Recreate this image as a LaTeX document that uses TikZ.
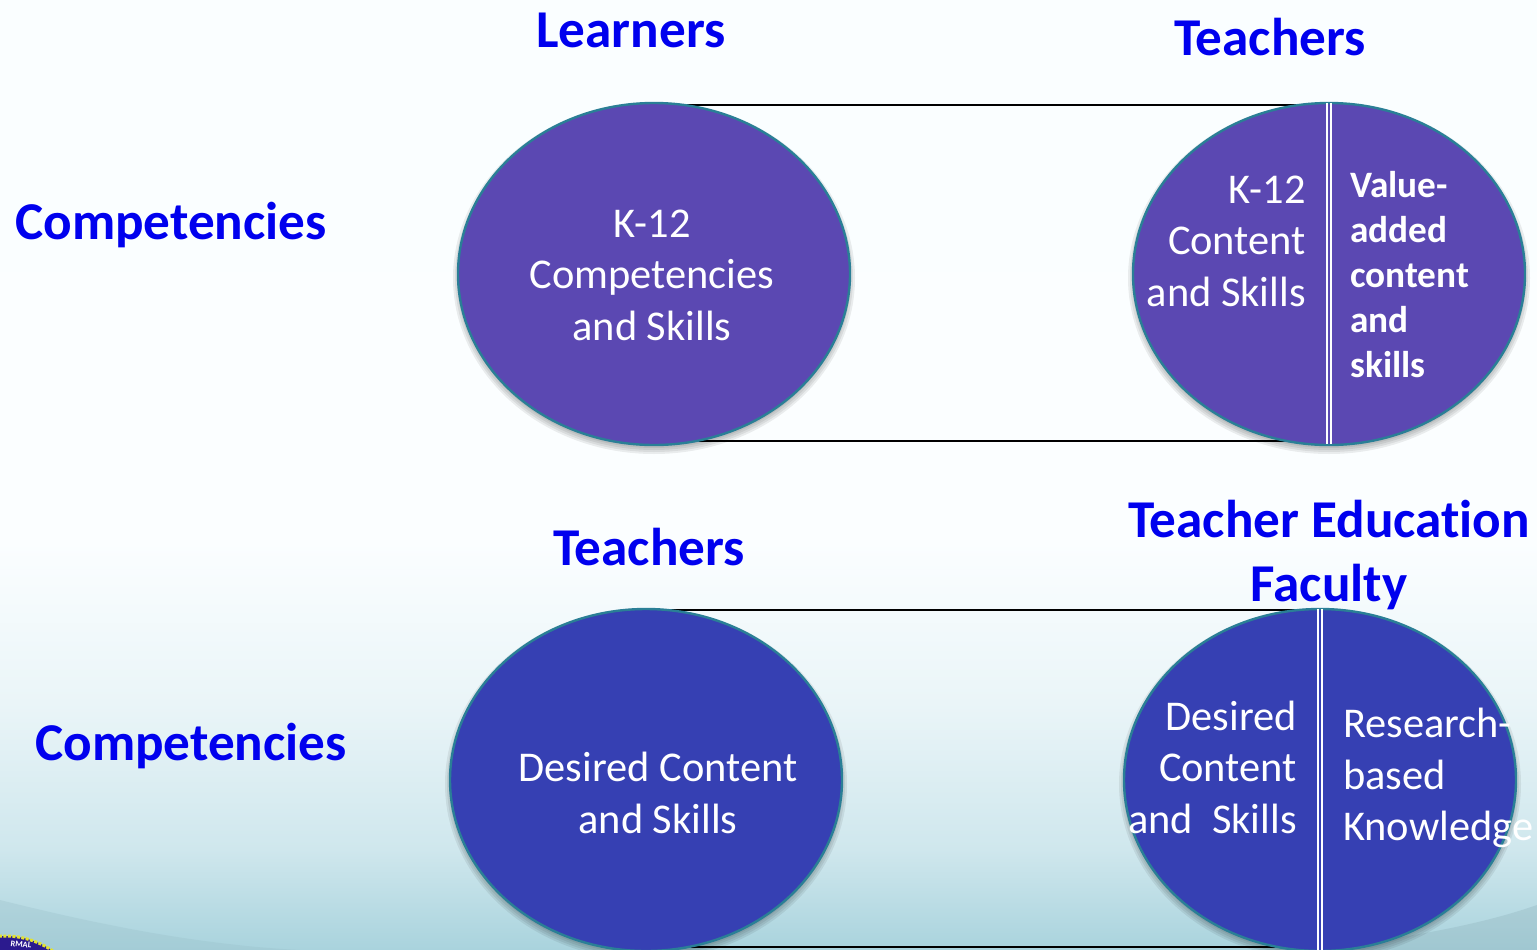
\documentclass[tikz,border=0pt]{standalone}
\usepackage{fontspec}
\setmainfont{Carlito}[Ligatures=NoCommon]
\usetikzlibrary{shapes.geometric}
\pgfdeclarelayer{back}
\pgfsetlayers{back,main}
\definecolor{violetfill}{HTML}{5B48B2}
\definecolor{bluefill}{HTML}{3640B3}
\definecolor{rimcol}{HTML}{2A7F96}
\definecolor{titleblue}{HTML}{0000EE}
\definecolor{bgA}{HTML}{FAFEFF}
\definecolor{bgB}{HTML}{FBFEFF}
\definecolor{bgC}{HTML}{EAF5F8}
\definecolor{bgD}{HTML}{CFE7ED}
\definecolor{bgE}{HTML}{A9D3DD}
\definecolor{sealfill}{HTML}{2B1A8E}
\definecolor{sealgold}{HTML}{E4E22E}
\pgfdeclareverticalshading{slidebg}{100bp}{
 color(0bp)=(bgE);
 color(25bp)=(bgE);
 color(30.3bp)=(bgD);
 color(38bp)=(bgC);
 color(46.5bp)=(bgB);
 color(75bp)=(bgA);
 color(100bp)=(bgA)}
\tikzset{
 x=1pt,y=-1pt,
 oval/.style={ellipse,draw=rimcol,line width=2.4pt,minimum width=392pt,minimum height=342pt,inner sep=0pt,text=white},
 violetoval/.style={oval,fill=violetfill},
 blueoval/.style={oval,fill=bluefill},
 heading/.style={text=titleblue,font=\fontsize{53.2}{64}\selectfont\bfseries,align=center,inner sep=0pt},
 bodytext/.style={text=white,font=\fontsize{42.4}{51.5}\selectfont,inner sep=0pt},
 boldtext/.style={text=white,font=\fontsize{37.3}{45}\selectfont\bfseries,inner sep=0pt},
 link/.style={draw=black,line width=2pt},
 splitline/.style={draw=white,line width=1.4pt}
}
\begin{document}
\begin{tikzpicture}
\useasboundingbox (0,0) rectangle (1537,950);
\clip (0,0) rectangle (1537,950);
% ovals
\node[violetoval] (learn) at (654,274) {};
\node[violetoval] (teach) at (1329,274) {};
\node[blueoval] (teachb) at (646,780) {};
\node[blueoval] (faculty) at (1320,780) {};
\begin{pgfonlayer}{back}
 \fill[shading=slidebg] (0,950) rectangle (1537,0);
 \fill[bgE!85!black,opacity=.35] (1537,950) -- (1537,905) .. controls (1480,925) and (1400,940) .. (1300,950) -- cycle;
 \fill[bgE!90!black,opacity=.3] (0,900) .. controls (100,925) and (200,945) .. (300,950) -- (0,950) -- cycle;
 \draw[link] ([yshift=-3pt]learn.north) -- ([yshift=-3pt]teach.north);
 \draw[link] ([yshift=5pt]learn.south) -- ([yshift=5pt]teach.south);
 \draw[link] ([yshift=-2pt]teachb.north) -- ([yshift=-2pt]faculty.north);
 \draw[link] ([yshift=5pt]teachb.south) -- ([yshift=5pt]faculty.south);
 \foreach \c in {learn,teach,teachb,faculty}{
  \foreach \g in {6,4,2,0}{
   \fill[black,opacity=.07] ([yshift=-4pt]\c.center) ellipse [x radius=195+\g, y radius=170+\g];
  }
 }
 % seal at the lower left corner
 \node[circle,fill=sealfill,draw=sealgold,line width=3pt,dash pattern=on 3pt off 1.5pt,minimum size=168pt,inner sep=0pt] (seal) at (5,1020) {};
 \node[text=white,font=\fontsize{8.5}{9}\selectfont\bfseries,inner sep=0pt,rotate=-6] (sealtext) at (21,944.5) {RMAL};
\end{pgfonlayer}
% dividers
\draw[splitline] ([xshift=-2pt,yshift=-1pt]teach.north) -- ([xshift=-2pt,yshift=2pt]teach.south);
\draw[splitline] ([xshift=2pt,yshift=-1pt]teach.north) -- ([xshift=2pt,yshift=2pt]teach.south);
\draw[splitline] ([xshift=-2pt,yshift=-1pt]faculty.north) -- ([xshift=-2pt,yshift=2pt]faculty.south);
\draw[splitline] ([xshift=2pt,yshift=-1pt]faculty.north) -- ([xshift=2pt,yshift=2pt]faculty.south);
% headings
\node[heading] (h1) at (631,30) {Learners};
\node[heading] (h2) at (1270,37) {Teachers};
\node[heading] (h3) at (171,225) {Competencies};
\node[heading] (h4) at (649,547) {Teachers};
\node[heading] (h5) at (1329,555) {Teacher Education\\Faculty};
\node[heading] (h6) at (191,746) {Competencies};
% oval text
\node[bodytext,align=center] (t1) at (652,275) {K-12\\Competencies\\and Skills};
\node[bodytext,align=right,anchor=east] (t2) at (1306,241) {K-12\\Content\\and Skills};
\node[boldtext,align=left,anchor=west] (t3) at (1350,275) {Value-\\added\\content\\and\\skills};
\node[bodytext,align=center] (t4) at (658,793) {Desired Content\\and Skills};
\node[bodytext,align=right,anchor=east] (t5) at (1297,767) {Desired\\Content\\and~~Skills};
\node[bodytext,align=left,anchor=west] (t6) at (1343,778) {Research-\\based\\Knowledge};
\end{tikzpicture}
\end{document}
